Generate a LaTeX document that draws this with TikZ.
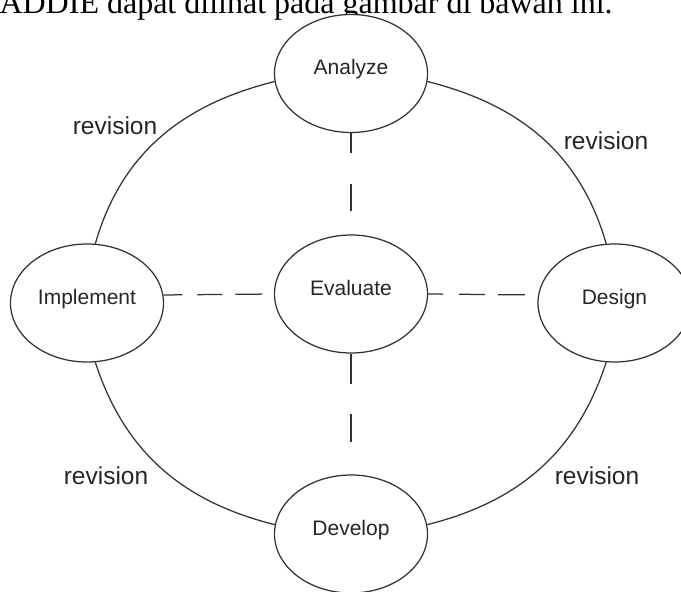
\documentclass[tikz,border=0pt]{standalone}
\usepackage{fontspec}
\setmainfont{Liberation Sans}
\newfontfamily\pageserif{Liberation Serif}
\usetikzlibrary{shapes.geometric}

\begin{document}
\begin{tikzpicture}[x=1pt,y=-1pt,
  phase/.style={ellipse,draw=black!80,line width=1.25pt,fill=white,minimum width=153pt,minimum height=118pt,inner sep=0pt,text=black!85,font=\fontsize{21}{25}\selectfont,text height=0.7em,text depth=0.45em},
  cycleline/.style={draw=black!80,line width=1.25pt},
  link/.style={draw=black!80,line width=1.25pt},
  rev/.style={text=black!85,font=\fontsize{24.5}{29}\selectfont}]
\useasboundingbox (0,0) rectangle (681,592);
\node[anchor=base west,font=\pageserif\fontsize{32}{38}\selectfont] (caption) at (-4,13) {ADDIE dapat dilihat pada gambar di bawah ini.};

\node[phase] (analyze) at (351,73.5) {Analyze};
\node[phase] (evaluate) at (351,294) {Evaluate};
\node[phase] (implement) at (87,303) {Implement};
\node[phase] (design) at (614.5,303) {Design};
\node[phase] (develop) at (351,534) {Develop};

% outer cycle
\draw[cycleline] (analyze.186) to[out=194,in=74] (implement.82);
\draw[cycleline] (analyze.354) to[out=-14,in=106] (design.98);
\draw[cycleline] (implement.278) to[out=288,in=166] (develop.173);
\draw[cycleline] (design.262) to[out=252,in=14] (develop.7);

% links to evaluate
\draw[link,dash pattern=on 19pt off 15pt on 25pt off 13pt on 27pt off 40pt] (implement.6) -- (evaluate.west);
\draw[link,dash pattern=on 15pt off 16pt on 26pt off 13pt on 27pt off 40pt] (evaluate.east) -- (design.174);
\draw[link,dash pattern=on 20pt off 31pt on 27pt off 40pt] (analyze.south) -- (evaluate.north);
\draw[link,dash pattern=on 30pt off 30pt on 28pt off 50pt] (evaluate.south) -- (develop.north);

\node[rev] (rev1) at (115,126) {revision};
\node[rev] (rev2) at (606,141) {revision};
\node[rev] (rev3) at (106,476) {revision};
\node[rev] (rev4) at (597,476) {revision};

\end{tikzpicture}
\end{document}
